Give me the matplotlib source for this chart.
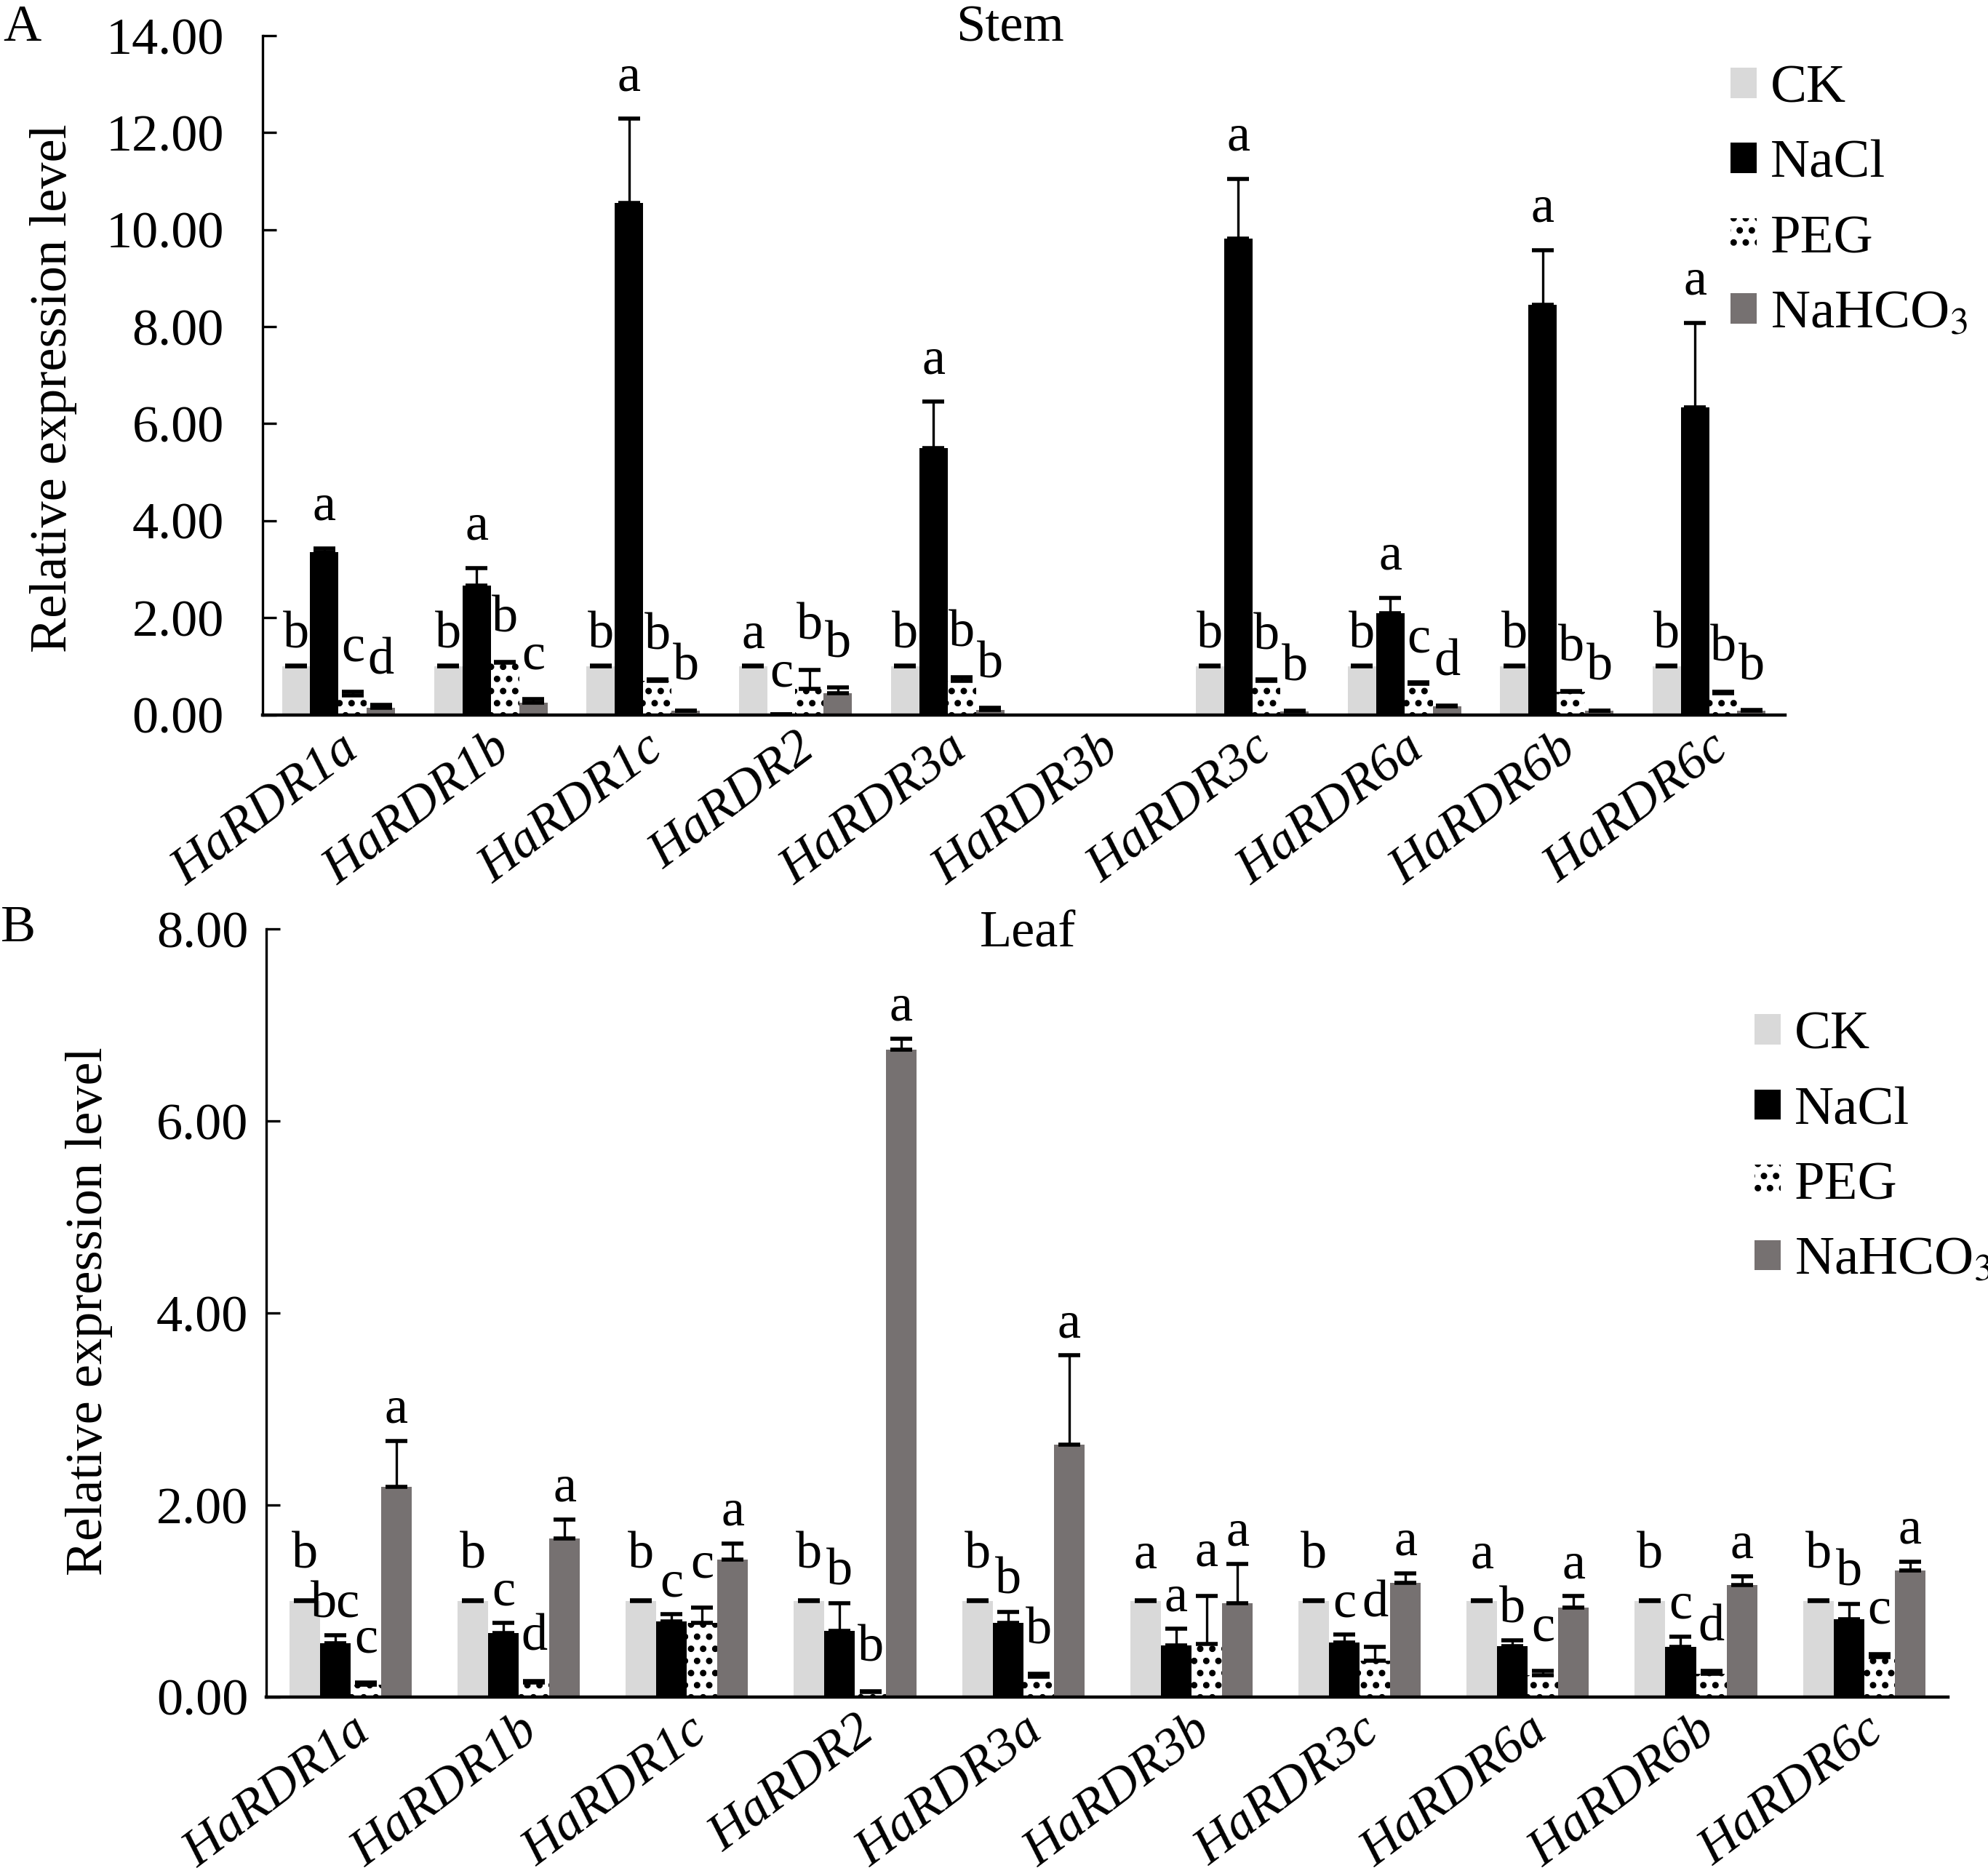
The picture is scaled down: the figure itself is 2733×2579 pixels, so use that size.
import numpy as np
import matplotlib
matplotlib.use("Agg")
import matplotlib.pyplot as plt
from matplotlib.patches import Patch

plt.rcParams['font.family'] = ['Liberation Serif', 'DejaVu Serif']
plt.rcParams['mathtext.fontset'] = 'stix'
plt.rcParams['hatch.linewidth'] = 2.0

genes = ['HaRDR1a', 'HaRDR1b', 'HaRDR1c', 'HaRDR2', 'HaRDR3a',
         'HaRDR3b', 'HaRDR3c', 'HaRDR6a', 'HaRDR6b', 'HaRDR6c']
treatments = ['CK', 'NaCl', 'PEG', r'NaHCO$_3$']

# Stem (panel A), HaRDR3b has no data
stem_ck = [1.00, 1.00, 1.00, 1.00, 1.00, 0.00, 1.00, 1.00, 1.00, 1.00]
stem_ck_err = [0.01, 0.01, 0.01, 0.01, 0.01, 0.00, 0.01, 0.01, 0.01, 0.01]
stem_nacl = [3.36, 2.67, 10.55, 0.01, 5.50, 0.00, 9.82, 2.09, 8.45, 6.34]
stem_nacl_err = [0.07, 0.36, 1.74, 0.00, 0.95, 0.00, 1.23, 0.32, 1.13, 1.74]
stem_peg = [0.40, 1.07, 0.70, 0.53, 0.70, 0.00, 0.70, 0.64, 0.47, 0.45]
stem_peg_err = [0.08, 0.02, 0.03, 0.40, 0.08, 0.00, 0.03, 0.03, 0.02, 0.03]
stem_nahco3 = [0.15, 0.25, 0.08, 0.45, 0.10, 0.00, 0.07, 0.17, 0.08, 0.09]
stem_nahco3_err = [0.06, 0.07, 0.01, 0.11, 0.04, 0.00, 0.01, 0.02, 0.01, 0.01]
stem_letters = [['b', 'a', 'c', 'd'], ['b', 'a', 'b', 'c'], ['b', 'a', 'b', 'b'],
                ['a', 'c', 'b', 'b'], ['b', 'a', 'b', 'b'], ['', '', '', ''],
                ['b', 'a', 'b', 'b'], ['b', 'a', 'c', 'd'], ['b', 'a', 'b', 'b'],
                ['b', 'a', 'b', 'b']]

# Leaf (panel B)
leaf_ck = [1.00, 1.00, 1.00, 1.00, 1.00, 1.00, 1.00, 1.00, 1.00, 1.00]
leaf_ck_err = [0.01, 0.01, 0.01, 0.01, 0.01, 0.01, 0.01, 0.01, 0.01, 0.01]
leaf_nacl = [0.56, 0.67, 0.79, 0.69, 0.77, 0.54, 0.57, 0.53, 0.52, 0.81]
leaf_nacl_err = [0.08, 0.10, 0.07, 0.29, 0.12, 0.17, 0.08, 0.06, 0.11, 0.16]
leaf_peg = [0.13, 0.15, 0.77, 0.05, 0.21, 0.55, 0.38, 0.23, 0.24, 0.42]
leaf_peg_err = [0.02, 0.02, 0.16, 0.01, 0.03, 0.50, 0.14, 0.04, 0.03, 0.03]
leaf_nahco3 = [2.19, 1.65, 1.43, 6.74, 2.63, 0.98, 1.19, 0.93, 1.17, 1.32]
leaf_nahco3_err = [0.48, 0.20, 0.17, 0.12, 0.93, 0.41, 0.10, 0.12, 0.09, 0.09]
leaf_letters = [['b', 'bc', 'c', 'a'], ['b', 'c', 'd', 'a'], ['b', 'c', 'c', 'a'],
                ['b', 'b', 'b', 'a'], ['b', 'b', 'b', 'a'], ['a', 'a', 'a', 'a'],
                ['b', 'c', 'd', 'a'], ['a', 'b', 'c', 'a'], ['b', 'c', 'd', 'a'],
                ['b', 'b', 'c', 'a']]

colors = ['#d9d9d9', '#000000', 'white', '#767171']
hatches = [None, None, '..', None]
FS = 26


def draw_panel(ax, series, errs, letters, width, ymax, step, tickpad, lift):
    x = np.arange(len(genes))
    offsets = (np.arange(4) - 1.5) * width
    for i in range(4):
        vals = np.array(series[i])
        err = np.array(errs[i])
        xs = x + offsets[i]
        ax.bar(xs, vals, width=width, color=colors[i], hatch=hatches[i],
               edgecolor='black', linewidth=0, zorder=2)
        m = vals > 0
        ax.errorbar(xs[m], vals[m], yerr=[np.zeros(m.sum()), err[m]], fmt='none',
                    ecolor='black', elinewidth=1.2, capsize=5.5, capthick=2.0,
                    zorder=3)
        for j in range(len(genes)):
            if letters[j][i]:
                ax.annotate(letters[j][i], (xs[j], vals[j] + err[j]),
                            xytext=(0, lift[i]), textcoords='offset points',
                            ha='center', va='baseline', fontsize=FS)
    ax.set_xlim(-0.5, len(genes) - 0.5)
    ax.set_ylim(0, ymax)
    ax.set_yticks(np.arange(0, ymax + 0.01, step))
    ax.set_yticklabels(['%.2f' % v for v in np.arange(0, ymax + 0.01, step)])
    ax.set_xticks(x)
    ax.set_xticklabels(genes, rotation=37, ha='right', va='top',
                       rotation_mode='anchor', style='italic', fontsize=FS)
    ax.tick_params(axis='y', direction='in', length=7, width=1.2,
                   labelsize=FS, pad=tickpad)
    ax.tick_params(axis='x', length=0, pad=5)
    for s in ['top', 'right']:
        ax.spines[s].set_visible(False)
    ax.spines['left'].set_linewidth(1.2)
    ax.spines['bottom'].set_linewidth(1.6)


fig = plt.figure(figsize=(13.665, 12.895), dpi=200)

axA = fig.add_axes([0.132, 0.619, 0.766, 0.362])
draw_panel(axA, [stem_ck, stem_nacl, stem_peg, stem_nahco3],
           [stem_ck_err, stem_nacl_err, stem_peg_err, stem_nahco3_err],
           stem_letters, 0.186, 14, 2, 19, [9, 14, 15, 15])

axB = fig.add_axes([0.134, 0.0954, 0.846, 0.4094])
draw_panel(axB, [leaf_ck, leaf_nacl, leaf_peg, leaf_nahco3],
           [leaf_ck_err, leaf_nacl_err, leaf_peg_err, leaf_nahco3_err],
           leaf_letters, 0.182, 8, 2, 9, [16, 9, 15, 9])

handles = [Patch(facecolor=colors[i], hatch=hatches[i], edgecolor='black',
                 linewidth=0) for i in range(4)]
for ax, anchor in [(axA, (0.8705, 0.9655)), (axB, (0.8825, 0.461))]:
    ax.legend(handles, treatments, loc='upper left', bbox_to_anchor=anchor,
              bbox_transform=fig.transFigure, frameon=False, fontsize=27,
              handlelength=0.48, handleheight=0.48, handletextpad=0.25,
              labelspacing=0.48, borderpad=0, borderaxespad=0)

fig.text(0.508, 0.985, 'Stem', ha='center', va='center', fontsize=FS)
fig.text(0.517, 0.502, 'Leaf', ha='center', va='center', fontsize=FS)
fig.text(0.011, 0.985, 'A', ha='center', va='center', fontsize=FS)
fig.text(0.009, 0.505, 'B', ha='center', va='center', fontsize=FS)
fig.text(0.027, 0.793, 'Relative expression level', rotation=90,
         ha='center', va='center', fontsize=FS)
fig.text(0.045, 0.301, 'Relative expression level', rotation=90,
         ha='center', va='center', fontsize=FS)

fig.savefig('out.png', dpi=200)
